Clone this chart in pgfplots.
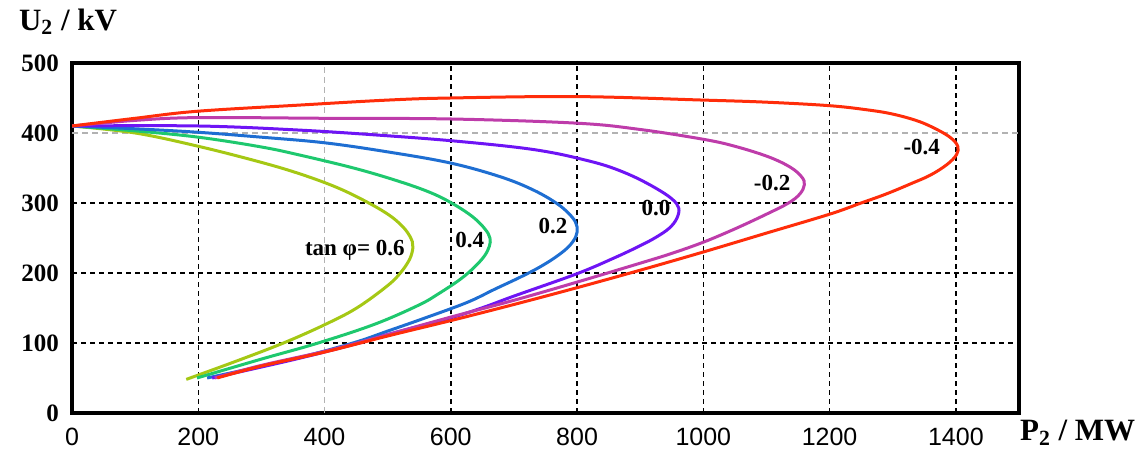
\documentclass[border=0pt]{standalone}
\usepackage{fontspec}
\setmainfont{Liberation Serif}
\newfontfamily\arial{Liberation Sans}
\usepackage{pgfplots}
\pgfplotsset{compat=1.18}

\definecolor{cRed}{RGB}{255,45,10}
\definecolor{cMag}{RGB}{190,60,170}
\definecolor{cPur}{RGB}{110,20,245}
\definecolor{cBlu}{RGB}{30,110,210}
\definecolor{cGrn}{RGB}{30,200,110}
\definecolor{cYel}{RGB}{165,200,20}

\pgfplotsset{pv/.style={line width=1.5pt, smooth, tension=0.6, no marks}}

\begin{document}
\begin{tikzpicture}
\begin{axis}[
  scale only axis, width=473.5pt, height=175pt,
  xmin=0, xmax=1500, ymin=0, ymax=500,
  xtick={0,200,600,800,1000,1200,1400},
  ytick={0,100,200,300,500},
  extra x ticks={400}, extra y ticks={400},
  extra x tick style={major grid style={gray!60, dash pattern=on 3pt off 2pt, line width=0.6pt}},
  extra y tick style={major grid style={gray!60, dash pattern=on 3pt off 2pt, line width=0.6pt}},
  grid=major,
  major grid style={black, dash pattern=on 2.5pt off 2pt, line width=0.7pt},
  major tick length=0pt,
  axis line style={line width=1.6pt},
  /pgf/number format/assume math mode=true,
  /pgf/number format/set thousands separator={},
  xticklabel style={font=\arial\fontsize{12.5}{13}\selectfont, yshift=-4pt},
  yticklabel style={font=\bfseries\fontsize{12.5}{13}\selectfont, xshift=-3pt},
]
\coordinate (SW) at (rel axis cs:0,0);
\coordinate (NE) at (rel axis cs:1,1);

% tan phi = 0.6
\addplot[pv, cYel] coordinates {
(0,410) (100,400) (200,381) (300,358) (363,341) (420,322) (468,301) (505,281)
(528,262) (539,245) (540,236) (535,220) (521,201) (500,182) (451,150) (400,126)
(335,100) (260,74) (181,48)};
% 0.4
\addplot[pv, cGrn] coordinates {
(0,410) (100,403) (200,394) (300,380) (363,368) (450,349) (521,330) (570,314)
(605,298) (635,280) (654,263) (662,250) (661,238) (653,224) (637,208) (615,191)
(580,170) (549,154) (480,127) (390,100) (300,77) (198,50)};
% 0.2
\addplot[pv, cBlu] coordinates {
(0,410) (100,406) (200,401) (300,394) (400,386) (500,373) (600,357) (680,337)
(732,318) (770,298) (792,280) (800,266) (798,252) (786,237) (765,222) (740,208)
(710,194) (670,177) (626,158) (560,136) (500,117) (445,100) (350,77) (214,50)};
% 0.0
\addplot[pv, cPur] coordinates {
(0,410) (200,410) (363,404) (500,396) (600,389) (700,380) (760,372) (810,362)
(850,352) (889,338) (925,321) (950,306) (961,293) (958,278) (946,264) (925,251)
(900,239) (860,222) (800,199) (700,167) (652,151) (600,136) (500,112) (455,100)
(350,76) (222,50)};
% -0.2
\addplot[pv, cMag] coordinates {
(0,410) (100,418) (200,422) (400,421) (600,420) (800,414) (900,405) (1000,391)
(1050,381) (1103,366) (1138,351) (1156,337) (1160,326) (1153,313) (1135,300)
(1100,284) (1050,263) (1000,244) (950,228) (900,214) (800,187) (700,161)
(600,137) (500,112) (460,102) (400,88) (300,68) (226,50)};
% -0.4
\addplot[pv, cRed] coordinates {
(0,410) (100,421) (198,431) (363,440) (500,447) (600,450) (800,452) (1000,447)
(1100,444) (1200,439) (1260,433) (1300,427) (1340,417) (1370,405) (1392,393)
(1403,381) (1401,369) (1386,355) (1360,340) (1330,328) (1290,313) (1250,300)
(1200,284) (1100,257) (1000,230) (900,204) (800,179) (700,155) (600,132)
(500,110) (400,87) (300,67) (230,50)};

\begin{scope}[every node/.style={font=\bfseries\fontsize{11.5}{13}\selectfont}]
\node at (axis cs:448,233) {tan φ= 0.6};
\node at (axis cs:630,247) {0.4};
\node at (axis cs:762,267) {0.2};
\node at (axis cs:925,293) {0.0};
\node at (axis cs:1109,329) {-0.2};
\node at (axis cs:1346,380) {-0.4};
\end{scope}
\end{axis}

\node[anchor=west, font=\bfseries\fontsize{15.5}{16}\selectfont]
  at ([xshift=-30pt,yshift=20.5pt]SW |- NE) {U\textsubscript{2} / kV};
\node[anchor=west, font=\bfseries\fontsize{15.5}{16}\selectfont]
  at ([xshift=-3pt,yshift=-10pt]NE |- SW) {P\textsubscript{2} / MW};

\pgfresetboundingbox
\path[use as bounding box] ([xshift=-36pt,yshift=-18.5pt]SW) rectangle ([xshift=61pt,yshift=31.5pt]NE);
\end{tikzpicture}
\end{document}
